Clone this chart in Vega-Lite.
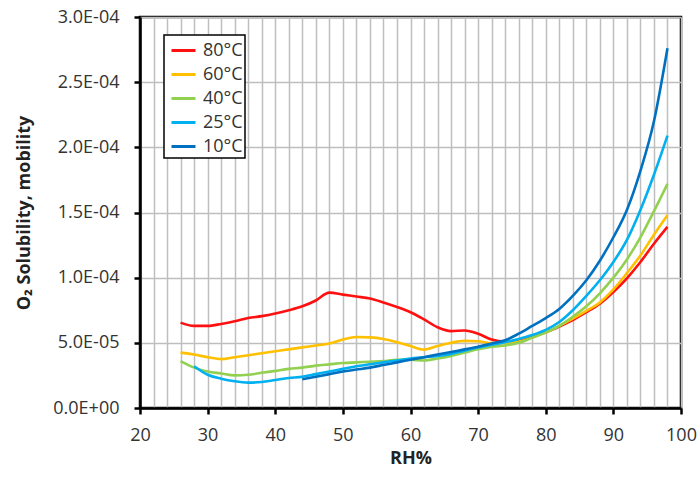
{
  "$schema": "https://vega.github.io/schema/vega-lite/v6.json",
  "width": 541,
  "height": 391,
  "autosize": "none",
  "padding": {"left": 140, "top": 17, "right": 18, "bottom": 71},
  "background": "white",
  "config": {
    "view": {"stroke": "black", "strokeWidth": 2.5},
    "font": "Open Sans",
    "legend": {"strokeWidth": 1.5},
    "axis": {
      "labelFont": "Open Sans",
      "labelFontSize": 18,
      "labelColor": "#333333",
      "titleFont": "Open Sans",
      "titleFontSize": 18,
      "titleFontWeight": "bold",
      "titleColor": "#222222",
      "domainColor": "black",
      "domainWidth": 2.5,
      "tickColor": "black",
      "tickWidth": 2.5,
      "tickSize": 6,
      "gridColor": "#bebebe",
      "gridWidth": 1.5,
      "gridOpacity": 1
    }
  },
  "datasets": {
    "d": [
      {"RH": 26, "T": "80°C", "S": 6.55e-5}, {"RH": 28, "T": "80°C", "S": 6.3e-5}, {"RH": 30, "T": "80°C", "S": 6.3e-5}, {"RH": 32, "T": "80°C", "S": 6.45e-5}, {"RH": 34, "T": "80°C", "S": 6.65e-5}, {"RH": 36, "T": "80°C", "S": 6.9e-5}, {"RH": 38, "T": "80°C", "S": 7.05e-5}, {"RH": 40, "T": "80°C", "S": 7.25e-5}, {"RH": 42, "T": "80°C", "S": 7.5e-5}, {"RH": 44, "T": "80°C", "S": 7.8e-5}, {"RH": 46, "T": "80°C", "S": 8.25e-5}, {"RH": 48, "T": "80°C", "S": 8.85e-5}, {"RH": 50, "T": "80°C", "S": 8.7e-5}, {"RH": 52, "T": "80°C", "S": 8.55e-5}, {"RH": 54, "T": "80°C", "S": 8.4e-5}, {"RH": 56, "T": "80°C", "S": 8.1e-5}, {"RH": 58, "T": "80°C", "S": 7.75e-5}, {"RH": 60, "T": "80°C", "S": 7.35e-5}, {"RH": 62, "T": "80°C", "S": 6.8e-5}, {"RH": 64, "T": "80°C", "S": 6.2e-5}, {"RH": 66, "T": "80°C", "S": 5.9e-5}, {"RH": 68, "T": "80°C", "S": 5.95e-5}, {"RH": 70, "T": "80°C", "S": 5.7e-5}, {"RH": 72, "T": "80°C", "S": 5.25e-5}, {"RH": 74, "T": "80°C", "S": 5.1e-5}, {"RH": 76, "T": "80°C", "S": 5.15e-5}, {"RH": 78, "T": "80°C", "S": 5.45e-5}, {"RH": 80, "T": "80°C", "S": 5.8e-5}, {"RH": 82, "T": "80°C", "S": 6.25e-5}, {"RH": 84, "T": "80°C", "S": 6.75e-5}, {"RH": 86, "T": "80°C", "S": 7.35e-5}, {"RH": 88, "T": "80°C", "S": 8.0e-5}, {"RH": 90, "T": "80°C", "S": 8.9e-5}, {"RH": 92, "T": "80°C", "S": 9.95e-5}, {"RH": 94, "T": "80°C", "S": 11.2e-5}, {"RH": 96, "T": "80°C", "S": 12.6e-5}, {"RH": 98, "T": "80°C", "S": 13.9e-5},

      {"RH": 26, "T": "60°C", "S": 4.25e-5}, {"RH": 28, "T": "60°C", "S": 4.1e-5}, {"RH": 30, "T": "60°C", "S": 3.9e-5}, {"RH": 32, "T": "60°C", "S": 3.75e-5}, {"RH": 34, "T": "60°C", "S": 3.9e-5}, {"RH": 36, "T": "60°C", "S": 4.05e-5}, {"RH": 38, "T": "60°C", "S": 4.2e-5}, {"RH": 40, "T": "60°C", "S": 4.35e-5}, {"RH": 42, "T": "60°C", "S": 4.5e-5}, {"RH": 44, "T": "60°C", "S": 4.65e-5}, {"RH": 46, "T": "60°C", "S": 4.8e-5}, {"RH": 48, "T": "60°C", "S": 4.95e-5}, {"RH": 50, "T": "60°C", "S": 5.25e-5}, {"RH": 52, "T": "60°C", "S": 5.45e-5}, {"RH": 54, "T": "60°C", "S": 5.42e-5}, {"RH": 56, "T": "60°C", "S": 5.3e-5}, {"RH": 58, "T": "60°C", "S": 5.05e-5}, {"RH": 60, "T": "60°C", "S": 4.75e-5}, {"RH": 62, "T": "60°C", "S": 4.48e-5}, {"RH": 64, "T": "60°C", "S": 4.75e-5}, {"RH": 66, "T": "60°C", "S": 5.0e-5}, {"RH": 68, "T": "60°C", "S": 5.15e-5}, {"RH": 70, "T": "60°C", "S": 5.12e-5}, {"RH": 72, "T": "60°C", "S": 4.98e-5}, {"RH": 74, "T": "60°C", "S": 4.98e-5}, {"RH": 76, "T": "60°C", "S": 5.1e-5}, {"RH": 78, "T": "60°C", "S": 5.4e-5}, {"RH": 80, "T": "60°C", "S": 5.8e-5}, {"RH": 82, "T": "60°C", "S": 6.3e-5}, {"RH": 84, "T": "60°C", "S": 6.85e-5}, {"RH": 86, "T": "60°C", "S": 7.45e-5}, {"RH": 88, "T": "60°C", "S": 8.1e-5}, {"RH": 90, "T": "60°C", "S": 9.1e-5}, {"RH": 92, "T": "60°C", "S": 10.35e-5}, {"RH": 94, "T": "60°C", "S": 11.7e-5}, {"RH": 96, "T": "60°C", "S": 13.3e-5}, {"RH": 98, "T": "60°C", "S": 14.8e-5},

      {"RH": 26, "T": "40°C", "S": 3.6e-5}, {"RH": 28, "T": "40°C", "S": 3.1e-5}, {"RH": 30, "T": "40°C", "S": 2.8e-5}, {"RH": 32, "T": "40°C", "S": 2.65e-5}, {"RH": 34, "T": "40°C", "S": 2.5e-5}, {"RH": 36, "T": "40°C", "S": 2.55e-5}, {"RH": 38, "T": "40°C", "S": 2.7e-5}, {"RH": 40, "T": "40°C", "S": 2.85e-5}, {"RH": 42, "T": "40°C", "S": 3.0e-5}, {"RH": 44, "T": "40°C", "S": 3.1e-5}, {"RH": 46, "T": "40°C", "S": 3.25e-5}, {"RH": 48, "T": "40°C", "S": 3.35e-5}, {"RH": 50, "T": "40°C", "S": 3.45e-5}, {"RH": 52, "T": "40°C", "S": 3.5e-5}, {"RH": 54, "T": "40°C", "S": 3.55e-5}, {"RH": 56, "T": "40°C", "S": 3.6e-5}, {"RH": 58, "T": "40°C", "S": 3.7e-5}, {"RH": 60, "T": "40°C", "S": 3.7e-5}, {"RH": 62, "T": "40°C", "S": 3.65e-5}, {"RH": 64, "T": "40°C", "S": 3.8e-5}, {"RH": 66, "T": "40°C", "S": 4.0e-5}, {"RH": 68, "T": "40°C", "S": 4.25e-5}, {"RH": 70, "T": "40°C", "S": 4.5e-5}, {"RH": 72, "T": "40°C", "S": 4.7e-5}, {"RH": 74, "T": "40°C", "S": 4.8e-5}, {"RH": 76, "T": "40°C", "S": 5.0e-5}, {"RH": 78, "T": "40°C", "S": 5.4e-5}, {"RH": 80, "T": "40°C", "S": 5.8e-5}, {"RH": 82, "T": "40°C", "S": 6.3e-5}, {"RH": 84, "T": "40°C", "S": 7.0e-5}, {"RH": 86, "T": "40°C", "S": 7.8e-5}, {"RH": 88, "T": "40°C", "S": 8.8e-5}, {"RH": 90, "T": "40°C", "S": 10.0e-5}, {"RH": 92, "T": "40°C", "S": 11.4e-5}, {"RH": 94, "T": "40°C", "S": 13.1e-5}, {"RH": 96, "T": "40°C", "S": 15.1e-5}, {"RH": 98, "T": "40°C", "S": 17.2e-5},

      {"RH": 28, "T": "25°C", "S": 3.2e-5}, {"RH": 30, "T": "25°C", "S": 2.55e-5}, {"RH": 32, "T": "25°C", "S": 2.25e-5}, {"RH": 34, "T": "25°C", "S": 2.05e-5}, {"RH": 36, "T": "25°C", "S": 1.95e-5}, {"RH": 38, "T": "25°C", "S": 2.0e-5}, {"RH": 40, "T": "25°C", "S": 2.15e-5}, {"RH": 42, "T": "25°C", "S": 2.3e-5}, {"RH": 44, "T": "25°C", "S": 2.4e-5}, {"RH": 46, "T": "25°C", "S": 2.6e-5}, {"RH": 48, "T": "25°C", "S": 2.8e-5}, {"RH": 50, "T": "25°C", "S": 3.0e-5}, {"RH": 52, "T": "25°C", "S": 3.2e-5}, {"RH": 54, "T": "25°C", "S": 3.35e-5}, {"RH": 56, "T": "25°C", "S": 3.5e-5}, {"RH": 58, "T": "25°C", "S": 3.65e-5}, {"RH": 60, "T": "25°C", "S": 3.8e-5}, {"RH": 62, "T": "25°C", "S": 3.9e-5}, {"RH": 64, "T": "25°C", "S": 4.0e-5}, {"RH": 66, "T": "25°C", "S": 4.15e-5}, {"RH": 68, "T": "25°C", "S": 4.4e-5}, {"RH": 70, "T": "25°C", "S": 4.65e-5}, {"RH": 72, "T": "25°C", "S": 4.85e-5}, {"RH": 74, "T": "25°C", "S": 5.05e-5}, {"RH": 76, "T": "25°C", "S": 5.3e-5}, {"RH": 78, "T": "25°C", "S": 5.6e-5}, {"RH": 80, "T": "25°C", "S": 6.0e-5}, {"RH": 82, "T": "25°C", "S": 6.6e-5}, {"RH": 84, "T": "25°C", "S": 7.5e-5}, {"RH": 86, "T": "25°C", "S": 8.6e-5}, {"RH": 88, "T": "25°C", "S": 9.8e-5}, {"RH": 90, "T": "25°C", "S": 11.2e-5}, {"RH": 92, "T": "25°C", "S": 12.9e-5}, {"RH": 94, "T": "25°C", "S": 15.2e-5}, {"RH": 96, "T": "25°C", "S": 17.9e-5}, {"RH": 98, "T": "25°C", "S": 20.9e-5},

      {"RH": 44, "T": "10°C", "S": 2.2e-5}, {"RH": 46, "T": "10°C", "S": 2.4e-5}, {"RH": 48, "T": "10°C", "S": 2.6e-5}, {"RH": 50, "T": "10°C", "S": 2.8e-5}, {"RH": 52, "T": "10°C", "S": 2.95e-5}, {"RH": 54, "T": "10°C", "S": 3.1e-5}, {"RH": 56, "T": "10°C", "S": 3.3e-5}, {"RH": 58, "T": "10°C", "S": 3.5e-5}, {"RH": 60, "T": "10°C", "S": 3.7e-5}, {"RH": 62, "T": "10°C", "S": 3.9e-5}, {"RH": 64, "T": "10°C", "S": 4.1e-5}, {"RH": 66, "T": "10°C", "S": 4.3e-5}, {"RH": 68, "T": "10°C", "S": 4.5e-5}, {"RH": 70, "T": "10°C", "S": 4.7e-5}, {"RH": 72, "T": "10°C", "S": 4.95e-5}, {"RH": 74, "T": "10°C", "S": 5.2e-5}, {"RH": 76, "T": "10°C", "S": 5.7e-5}, {"RH": 78, "T": "10°C", "S": 6.3e-5}, {"RH": 80, "T": "10°C", "S": 6.9e-5}, {"RH": 82, "T": "10°C", "S": 7.6e-5}, {"RH": 84, "T": "10°C", "S": 8.6e-5}, {"RH": 86, "T": "10°C", "S": 9.8e-5}, {"RH": 88, "T": "10°C", "S": 11.3e-5}, {"RH": 90, "T": "10°C", "S": 13.1e-5}, {"RH": 92, "T": "10°C", "S": 15.2e-5}, {"RH": 94, "T": "10°C", "S": 18.2e-5}, {"RH": 96, "T": "10°C", "S": 22.0e-5}, {"RH": 98, "T": "10°C", "S": 27.6e-5}
    ]
  },
  "data": {"name": "d"},
  "mark": {"type": "line", "strokeWidth": 2.6, "interpolate": "monotone"},
  "encoding": {
    "x": {
      "field": "RH",
      "type": "quantitative",
      "scale": {"domain": [20, 100], "nice": false, "zero": false},
      "axis": {
        "title": "RH%",
        "values": [20,22,24,26,28,30,32,34,36,38,40,42,44,46,48,50,52,54,56,58,60,62,64,66,68,70,72,74,76,78,80,82,84,86,88,90,92,94,96,98,100],
        "labelExpr": "datum.value % 10 === 0 ? datum.label : ''",
        "labelOverlap": false,
        "labelFlush": false,
        "labelPadding": 12,
        "titlePadding": 5,
        "tickOpacity": {"condition": {"test": "datum.value % 10 === 0", "value": 1}, "value": 0}
      }
    },
    "y": {
      "field": "S",
      "type": "quantitative",
      "scale": {"domain": [0, 0.0003], "nice": false},
      "axis": {
        "title": "O₂ Solubility, mobility",
        "values": [0, 0.00005, 0.0001, 0.00015, 0.0002, 0.00025, 0.0003],
        "labelExpr": "replace(replace(format(datum.value, '.1e'), 'e-', 'E-0'), 'e+', 'E+0')",
        "labelPadding": 15,
        "titlePadding": 19,
        "labelFlush": false
      }
    },
    "color": {
      "field": "T",
      "type": "nominal",
      "sort": ["80°C", "60°C", "40°C", "25°C", "10°C"],
      "scale": {
        "domain": ["80°C", "60°C", "40°C", "25°C", "10°C"],
        "range": ["#FF1010", "#FFC000", "#92D050", "#00B0F0", "#0070C0"]
      },
      "legend": {
        "title": null,
        "orient": "none",
        "legendX": 24,
        "legendY": 18,
        "fillColor": "white",
        "strokeColor": "black",
        "padding": 2,
        "symbolType": "stroke",
        "symbolSize": 576,
        "symbolStrokeWidth": 3,
        "symbolOffset": 4,
        "labelFont": "Open Sans",
        "labelFontSize": 18,
        "labelColor": "#333333",
        "labelOffset": 6,
        "rowPadding": 1
      }
    }
  }
}
